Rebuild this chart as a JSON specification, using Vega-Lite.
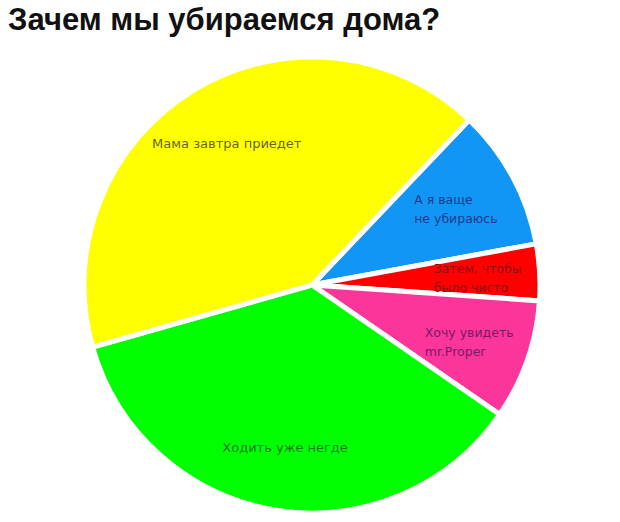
{
  "$schema": "https://vega.github.io/schema/vega-lite/v6.json",
  "autosize": {"type": "none"},
  "padding": {"left": 80, "top": 50, "right": 0, "bottom": 0},
  "width": 464,
  "height": 470,
  "background": "white",
  "title": {
    "text": "Зачем мы убираемся дома?",
    "anchor": "start",
    "frame": "group",
    "dx": -72,
    "offset": 10,
    "font": "Liberation Sans",
    "fontSize": 31,
    "fontWeight": "bold",
    "color": "#111111"
  },
  "data": {
    "values": [
      {"reason": "А я ваще\nне убираюсь", "share": 10, "order": 1},
      {"reason": "Затем, чтобы\nбыло чисто", "share": 4, "order": 2},
      {"reason": "Хочу увидеть\nmr.Proper", "share": 8.5, "order": 3},
      {"reason": "Ходить уже негде", "share": 36, "order": 4},
      {"reason": "Мама завтра приедет", "share": 41.5, "order": 5}
    ]
  },
  "encoding": {
    "theta": {"field": "share", "type": "quantitative", "stack": true, "scale": {"range": [0.761, 7.044]}},
    "order": {"field": "order", "type": "quantitative"}
  },
  "layer": [
    {
      "mark": {"type": "arc", "outerRadius": 228, "stroke": "white", "strokeWidth": 5},
      "encoding": {
        "color": {
          "field": "reason",
          "type": "nominal",
          "legend": null,
          "scale": {
            "domain": ["А я ваще\nне убираюсь", "Затем, чтобы\nбыло чисто", "Хочу увидеть\nmr.Proper", "Ходить уже негде", "Мама завтра приедет"],
            "range": ["#1196f6", "#ff0000", "#fb3599", "#00ff00", "#ffff00"]
          }
        }
      }
    },
    {
      "mark": {"type": "text", "radius": 165, "font": "DejaVu Sans", "fontSize": 13, "align": "center", "baseline": "middle"},
      "encoding": {
        "text": {"condition": {"test": "datum.order > 3", "field": "reason"}, "value": ""},
        "color": {
          "field": "reason",
          "type": "nominal",
          "legend": null,
          "scale": {
            "domain": ["А я ваще\nне убираюсь", "Затем, чтобы\nбыло чисто", "Хочу увидеть\nmr.Proper", "Ходить уже негде", "Мама завтра приедет"],
            "range": ["#1b3d8a", "#8a1010", "#7a1a68", "#1c7a1c", "#66662a"]
          }
        }
      }
    },
    {
      "mark": {"type": "text", "radius": 165, "font": "DejaVu Sans", "fontSize": 12.5, "lineBreak": "\n", "lineHeight": 19, "align": "left", "dx": -43, "dy": -7, "baseline": "middle"},
      "encoding": {
        "text": {"condition": {"test": "datum.order <= 3", "field": "reason"}, "value": ""},
        "color": {
          "field": "reason",
          "type": "nominal",
          "legend": null,
          "scale": {
            "domain": ["А я ваще\nне убираюсь", "Затем, чтобы\nбыло чисто", "Хочу увидеть\nmr.Proper", "Ходить уже негде", "Мама завтра приедет"],
            "range": ["#1b3d8a", "#8a1010", "#7a1a68", "#1c7a1c", "#66662a"]
          }
        }
      }
    }
  ],
  "resolve": {"scale": {"color": "independent"}}
}
